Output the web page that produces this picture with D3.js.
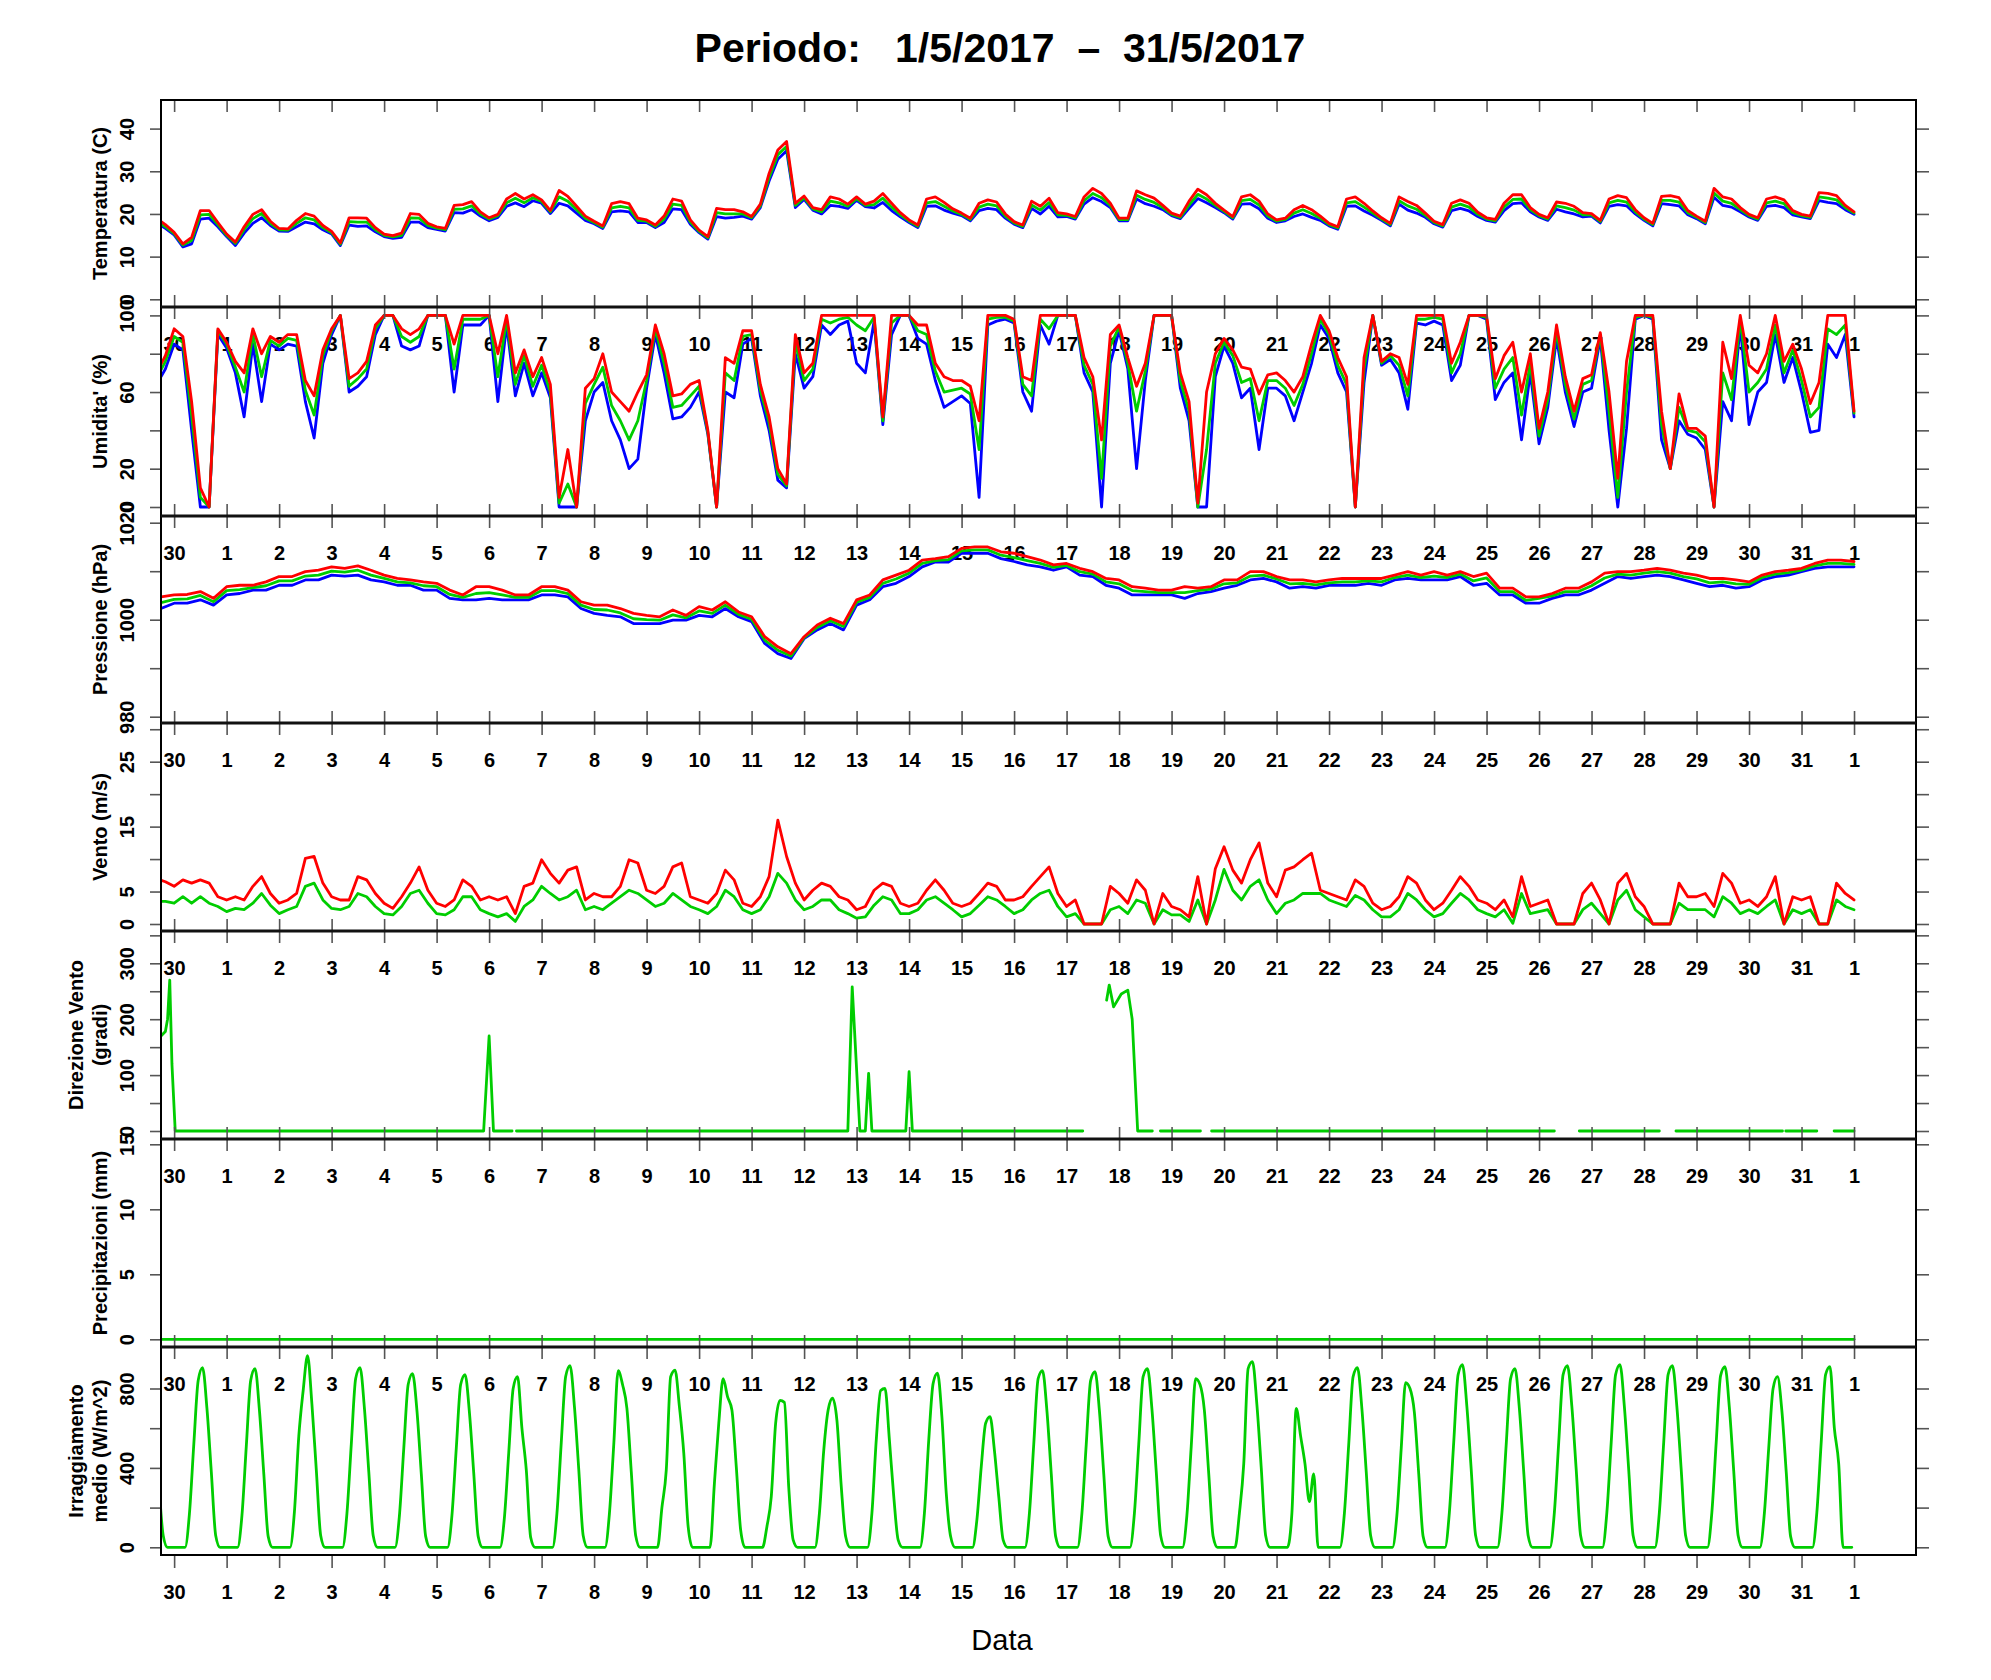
<!DOCTYPE html>
<html><head><meta charset="utf-8">
<script src="https://cdn.jsdelivr.net/npm/d3@7/dist/d3.min.js"></script>
<style>body{margin:0;background:#fff}svg{display:block}</style>
</head><body>
<svg id="c" width="1991" height="1680"></svg>
<script>
// ---------- DATA ----------
const dayLabels = ["30","1","2","3","4","5","6","7","8","9","10","11","12","13","14","15","16","17","18","19","20","21","22","23","24","25","26","27","28","29","30","31","1"];

// Temperature (C), 4-hourly from 29 Apr 16:00
const tMax = [19.0,17.5,
15.7,13.0,14.5,20.8,20.8,18.0, 15.3,13.4,17.0,19.9,21.0,18.3, 16.6,16.5,18.5,20.1,19.5,17.3, 15.9,13.2,19.1,19.1,19.0,16.8,
15.3,14.9,15.5,20.1,19.9,17.8, 17.0,16.6,22.0,22.2,22.9,20.5, 19.1,19.9,23.5,24.8,23.5,24.5, 23.3,20.8,25.5,24.1,21.8,19.5,
18.3,17.2,22.4,22.9,22.4,19.0, 18.6,17.4,19.5,23.5,23.0,18.6, 16.2,14.7,21.3,21.0,21.0,20.5, 19.4,22.3,29.5,35.0,37.0,22.5,
24.2,21.5,21.0,24.0,23.5,22.3, 24.0,22.3,23.0,24.8,22.5,20.3, 18.6,17.4,23.5,24.0,22.7,21.2, 20.2,19.0,22.5,23.3,22.8,20.0,
18.2,17.4,23.0,21.8,23.7,20.3, 20.0,19.4,24.0,26.0,24.8,22.5, 19.0,19.0,25.4,24.5,23.7,22.0, 20.2,19.5,23.0,25.8,24.5,22.5,
20.9,19.4,24.0,24.5,23.0,20.0, 18.6,19.0,21.0,22.0,21.0,19.5, 17.8,17.0,23.5,24.0,22.5,20.7, 19.1,17.8,24.0,22.9,22.0,20.2,
18.3,17.5,22.5,23.3,22.5,20.4, 19.1,18.7,22.5,24.5,24.5,21.5, 19.9,19.1,22.8,22.5,21.8,20.3, 20.1,18.5,23.5,24.3,23.8,21.0,
19.1,17.8,24.1,24.3,23.8,20.8, 19.5,18.3,26.0,24.0,23.5,21.5, 19.9,19.1,23.5,24.0,23.3,20.8, 19.9,19.5,25.0,24.8,24.3,22.0,
20.5];
const tMean = [18.5,17.0,
15.4,12.7,13.8,19.8,19.9,17.5, 15.0,13.1,16.3,18.9,20.1,17.8, 16.3,16.2,17.8,19.1,18.6,16.8, 15.6,12.9,18.2,18.1,18.1,16.3,
15.0,14.6,15.0,19.1,19.0,17.3, 16.7,16.3,21.1,21.2,21.9,20.0, 18.8,19.6,22.6,23.7,22.6,23.8, 22.9,20.5,24.0,23.0,21.0,19.0,
18.0,16.9,21.4,21.8,21.4,18.5, 18.3,17.1,18.8,22.3,22.0,18.1, 15.9,14.4,20.3,20.0,20.0,20.0, 19.1,21.9,28.5,33.9,35.8,22.0,
23.8,21.2,20.5,23.0,22.6,21.8, 23.6,22.0,22.2,23.7,21.6,19.8, 18.3,17.1,22.6,22.9,21.8,20.7, 19.9,18.7,21.6,22.3,21.9,19.5,
17.9,17.1,22.1,20.9,22.7,19.8, 19.7,19.1,23.1,24.8,23.8,22.0, 18.7,18.7,24.4,23.4,22.7,21.5, 19.9,19.2,22.1,24.6,23.5,22.0,
20.6,19.1,23.1,23.4,22.1,19.5, 18.3,18.7,20.2,21.0,20.1,19.0, 17.5,16.7,22.6,22.9,21.6,20.2, 18.8,17.5,23.1,21.9,21.1,19.7,
18.0,17.2,21.6,22.3,21.6,19.9, 18.8,18.4,21.6,23.4,23.5,21.0, 19.6,18.8,21.9,21.5,20.9,19.8, 19.8,18.2,22.6,23.2,22.8,20.5,
18.8,17.5,23.2,23.2,22.8,20.3, 19.2,18.0,24.9,23.0,22.5,21.0, 19.6,18.8,22.6,23.0,22.4,20.3, 19.6,19.2,24.0,23.7,23.3,21.5,
20.2];
const tMin = [18.0,16.6,
15.1,12.3,13.0,18.8,19.0,17.0, 14.7,12.6,15.5,17.8,19.1,17.3, 16.0,15.9,17.0,18.1,17.7,16.3, 15.3,12.6,17.4,17.1,17.2,15.8,
14.7,14.3,14.5,18.1,18.1,16.8, 16.4,16.0,20.3,20.2,21.0,19.5, 18.4,19.2,21.8,22.6,21.7,23.1, 22.5,20.1,22.5,21.9,20.2,18.5,
17.7,16.6,20.5,20.7,20.5,18.0, 18.0,16.8,18.0,21.2,21.0,17.6, 15.6,14.1,19.4,19.0,19.2,19.5, 18.8,21.5,27.7,32.8,34.8,21.5,
23.4,20.9,20.0,22.0,21.8,21.3, 23.2,21.7,21.4,22.7,20.8,19.3, 18.0,16.8,21.8,21.9,20.9,20.2, 19.6,18.4,20.8,21.3,21.0,19.0,
17.6,16.8,21.3,20.0,21.8,19.3, 19.4,18.8,22.3,23.8,22.9,21.5, 18.4,18.4,23.5,22.4,21.8,21.0, 19.6,18.9,21.3,23.6,22.6,21.5,
20.3,18.8,22.3,22.4,21.2,19.0, 18.0,18.4,19.4,20.0,19.2,18.5, 17.2,16.4,21.8,21.9,20.7,19.7, 18.5,17.2,22.3,20.9,20.2,19.2,
17.7,16.9,20.8,21.3,20.7,19.4, 18.5,18.1,20.8,22.4,22.6,20.5, 19.3,18.5,21.1,20.5,20.0,19.3, 19.5,17.9,21.8,22.2,21.9,20.0,
18.5,17.2,22.4,22.2,21.9,19.8, 18.9,17.7,23.9,22.0,21.6,20.5, 19.3,18.5,21.8,22.0,21.5,19.8, 19.3,18.9,23.1,22.7,22.4,21.0,
19.9];

// Relative humidity (%), 4-hourly from 29 Apr 16:00
const hMax = [70,79,
93,89,55,10,0,93, 86,76,70,93,80,89, 86,90,90,66,58,82, 93,100,67,70,76,95, 100,100,93,90,93,100,
100,100,85,100,100,100, 100,80,100,70,82,68, 78,64,5,30,0,62, 67,80,60,55,50,60, 69,95,80,58,59,64,
66,40,0,78,75,92, 92,64,47,20,12,90, 70,75,100,100,100,100, 100,100,100,47,100,100, 100,95,95,75,68,66,
66,63,45,100,100,100, 98,68,66,100,100,100, 100,100,78,68,35,90, 95,78,63,75,100,100, 100,70,55,2,60,80,
88,82,73,72,59,69, 70,66,60,68,85,100, 92,78,68,0,78,100, 76,80,78,64,100,100, 100,100,75,86,100,100,
100,67,79,86,60,80, 41,60,95,68,50,67, 69,91,60,15,76,100, 100,100,50,20,59,41, 41,37,0,86,67,100,
74,70,80,100,76,85, 72,54,65,100,100,100,
50];
const hMean = [67,76,
89,86,48,5,0,92, 85,73,60,90,68,87, 84,88,87,61,48,79, 92,100,63,67,72,93, 100,100,89,86,89,100,
100,100,72,98,98,98, 100,68,98,64,79,63, 74,60,2,12,0,54, 64,73,53,45,35,45, 66,93,75,52,53,58,
63,39,0,70,66,89, 90,61,44,17,11,86, 66,72,98,96,98,99, 95,92,99,45,96,100, 100,92,90,71,60,61,
62,59,30,98,99,99, 97,64,58,98,93,100, 100,100,74,64,15,84, 94,75,50,71,100,100, 100,66,50,0,30,75,
86,79,65,67,45,66, 66,62,53,64,80,98, 90,74,64,0,72,100, 75,79,74,58,98,98, 99,98,70,80,100,100,
99,62,72,78,48,75, 37,56,92,64,46,64, 66,90,50,5,60,99, 100,99,43,20,52,40, 39,34,0,70,56,98,
60,65,72,95,70,82, 66,47,52,93,90,95,
49];
const hMin = [64,72,
85,82,40,0,0,90, 83,70,47,85,55,85, 82,85,84,55,36,75, 90,100,60,63,68,90, 100,100,84,82,84,100,
100,100,60,95,95,95, 100,55,95,58,75,58, 70,57,0,0,0,45, 60,65,45,35,20,25, 62,90,70,46,47,52,
60,38,0,60,57,85, 88,58,40,14,10,80, 62,68,95,90,95,97, 75,70,97,43,90,100, 100,88,85,66,52,55,
58,54,5,95,97,98, 96,60,50,95,85,100, 100,100,70,60,0,75, 92,72,20,66,100,100, 100,62,45,0,0,68,
84,75,57,62,30,62, 62,58,45,60,75,95, 88,70,60,0,65,100, 74,77,70,51,96,95, 97,95,66,74,100,100,
98,56,65,70,35,70, 33,52,88,60,42,60, 62,88,40,0,41,98, 100,98,35,20,45,38, 36,30,0,55,45,95,
43,60,65,90,65,78, 60,39,40,85,78,90,
47];

// Pressure (hPa), 6-hourly from 29 Apr 18:00
const pMax = [1004.7,
1005.1,1005.2,1005.8,1004.4, 1006.8,1007.1,1007.1,1007.8, 1008.9,1008.9,1009.9,1010.2, 1010.9,1010.6,1011.1,1010.2,
1009.2,1008.5,1008.2,1007.8, 1007.5,1006.1,1005.1,1006.8, 1006.8,1006.1,1005.1,1005.1, 1006.8,1006.8,1006.1,1003.7,
1003.0,1003.0,1002.3,1001.3, 1000.9,1000.6,1002.0,1000.9, 1002.7,1002.0,1003.7,1001.6, 1000.6,996.5,994.4,993.0,
996.5,998.9,1000.3,999.2, 1004.1,1005.1,1008.2,1009.2, 1010.2,1012.3,1012.6,1013.0, 1014.7,1015.0,1015.0,1014.0,
1013.7,1013.0,1012.3,1011.3, 1011.6,1010.6,1009.9,1008.5, 1008.2,1006.8,1006.5,1006.1, 1006.1,1006.8,1006.5,1006.8,
1008.2,1008.2,1009.9,1009.9, 1008.9,1008.2,1008.2,1007.8, 1008.2,1008.5,1008.5,1008.5, 1008.5,1009.2,1009.9,1009.2,
1009.9,1009.2,1009.9,1008.9, 1009.6,1006.5,1006.5,1004.7, 1004.7,1005.4,1006.5,1006.5, 1007.8,1009.6,1009.9,1009.9,
1010.2,1010.6,1010.2,1009.6, 1009.2,1008.5,1008.5,1008.2, 1007.8,1009.2,1009.9,1010.2, 1010.6,1011.6,1012.3,1012.3,
1012.0];
const pMean = [1003.5,
1004.2,1004.3,1005.0,1003.7, 1006.0,1006.2,1006.6,1007.0, 1008.0,1008.0,1009.0,1009.2, 1010.0,1009.8,1010.2,1009.2,
1008.5,1007.8,1007.6,1007.0, 1006.8,1005.2,1004.6,1005.4, 1005.6,1005.1,1004.6,1004.6, 1006.0,1006.0,1005.4,1003.0,
1002.1,1002.0,1001.4,1000.2, 1000.0,999.9,1001.0,1000.4, 1001.8,1001.3,1003.0,1001.1, 1000.1,995.8,993.7,992.5,
996.3,998.4,999.8,998.6, 1003.6,1004.6,1007.5,1008.4, 1009.6,1011.6,1012.2,1012.4, 1014.2,1014.4,1014.4,1013.3,
1012.8,1012.2,1011.6,1010.8, 1011.2,1009.9,1009.4,1007.8, 1007.4,1006.0,1005.8,1005.6, 1005.6,1005.6,1006.0,1006.3,
1007.4,1007.6,1009.0,1009.2, 1008.4,1007.4,1007.5,1007.2, 1007.6,1007.8,1007.8,1008.0, 1007.8,1008.7,1009.2,1008.7,
1009.0,1008.7,1009.4,1008.0, 1008.6,1005.8,1005.8,1004.0, 1004.4,1004.9,1005.8,1005.8, 1007.0,1008.6,1009.4,1009.2,
1009.6,1009.9,1009.6,1008.9, 1008.4,1007.6,1007.8,1007.4, 1007.3,1008.7,1009.4,1009.7, 1010.2,1011.1,1011.6,1011.6,
1011.4];
const pMin = [1002.3,
1003.4,1003.4,1004.1,1003.0, 1005.1,1005.4,1006.1,1006.1, 1007.1,1007.1,1008.2,1008.2, 1009.2,1009.0,1009.2,1008.2,
1007.8,1007.1,1007.1,1006.1, 1006.1,1004.4,1004.1,1004.1, 1004.4,1004.1,1004.1,1004.1, 1005.1,1005.1,1004.7,1002.3,
1001.3,1000.9,1000.6,999.2, 999.2,999.2,999.9,999.9, 1000.9,1000.6,1002.3,1000.6, 999.6,995.1,993.0,992.0,
996.1,997.9,999.2,997.9, 1003.0,1004.1,1006.8,1007.5, 1008.9,1010.9,1011.9,1011.9, 1013.7,1013.7,1013.7,1012.6,
1012.0,1011.3,1010.9,1010.2, 1010.9,1009.2,1008.9,1007.1, 1006.5,1005.1,1005.1,1005.1, 1005.1,1004.4,1005.4,1005.8,
1006.5,1007.1,1008.2,1008.5, 1007.8,1006.5,1006.8,1006.5, 1007.1,1007.1,1007.1,1007.5, 1007.1,1008.2,1008.5,1008.2,
1008.2,1008.2,1008.9,1007.1, 1007.5,1005.1,1005.1,1003.4, 1003.4,1004.4,1005.1,1005.1, 1006.1,1007.5,1008.9,1008.5,
1008.9,1009.2,1008.9,1008.2, 1007.5,1006.8,1007.1,1006.5, 1006.8,1008.2,1008.9,1009.2, 1009.9,1010.6,1010.9,1010.9,
1010.9];

// Wind speed (m/s), 4-hourly from 29 Apr 16:00
const wMax = [7.0,6.5,
5.8,6.8,6.3,6.8,6.3,4.2, 3.7,4.2,3.7,5.8,7.3,4.7, 3.2,3.7,4.7,10.1,10.4,6.3, 4.2,3.7,3.7,7.3,6.8,4.7,
3.2,2.4,4.2,6.3,8.8,5.2, 3.2,2.7,3.7,6.8,5.8,3.7, 4.2,3.7,4.2,1.6,5.8,6.3, 9.9,7.8,6.3,8.3,8.8,3.7,
4.7,4.2,4.2,5.8,9.9,9.4, 5.2,4.7,5.8,8.8,9.4,4.2, 3.7,3.2,4.7,8.3,6.8,3.2, 2.7,4.2,7.3,16.0,10.4,6.3,
3.7,5.2,6.3,5.8,4.2,3.7, 2.2,2.7,5.2,6.3,5.8,3.2, 2.7,3.2,5.2,6.8,5.2,3.2, 2.7,3.2,4.7,6.3,5.8,3.7,
3.7,4.2,5.8,7.3,8.8,4.7, 2.7,3.7,0,0,0,5.8, 4.7,3.2,6.8,5.2,0,4.7, 2.7,2.2,1.1,7.3,0,8.5,
11.9,8.3,6.3,9.9,12.5,6.3, 4.2,8.3,8.8,9.9,10.9,5.2, 4.7,4.2,3.7,6.8,5.8,3.2, 2.2,2.7,4.2,7.3,6.3,3.7,
2.2,3.2,5.2,7.3,5.8,3.7, 3.2,2.2,3.7,1.1,7.3,2.7, 3.2,3.7,0,0,0,4.7, 6.3,3.7,0,6.3,7.8,4.2,
2.7,0,0,0,6.3,4.2, 4.2,4.7,2.7,7.8,6.3,3.2, 3.7,2.7,4.2,7.3,0,4.2, 3.7,4.2,0,0,6.3,4.7,
3.7];
const wMean = [3.5,3.5,
3.2,4.2,3.2,4.2,3.2,2.7, 1.9,2.4,2.2,3.2,4.7,2.9, 1.6,2.2,2.7,5.8,6.3,3.7, 2.4,2.2,2.7,4.7,4.2,2.7,
1.6,1.4,2.7,4.7,5.2,3.2, 1.6,1.4,2.2,4.2,4.2,2.2, 1.6,1.1,1.6,0.4,2.7,3.7, 5.8,4.7,3.7,4.2,5.2,2.2,
2.7,2.2,3.2,4.2,5.2,4.7, 3.7,2.7,3.2,4.7,3.7,2.7, 2.2,1.6,2.7,5.2,4.2,2.2, 1.6,2.2,4.2,7.8,6.3,3.7,
2.2,2.7,3.7,3.7,2.2,1.6, 0.9,1.1,2.9,4.2,3.7,1.6, 1.6,2.2,3.7,4.2,3.2,2.2, 1.1,1.6,2.9,4.2,3.7,2.7,
1.6,2.2,3.7,4.7,5.2,2.7, 1.1,1.6,0,0,0,2.2, 2.7,1.6,3.7,3.2,0,2.2, 1.4,1.4,0.4,3.7,0,3.7,
8.4,5.2,3.7,5.8,6.8,3.7, 1.6,3.2,3.7,4.7,4.7,4.7, 3.7,3.2,2.7,4.4,3.7,2.2, 1.1,1.1,2.2,4.7,3.7,2.2,
1.1,1.6,3.2,4.7,3.7,2.2, 1.6,1.1,2.2,0.1,4.7,1.6, 1.9,2.2,0,0,0,2.2, 3.2,1.6,0,3.7,5.2,2.2,
1.1,0,0,0,3.2,2.2, 2.2,2.2,1.1,4.2,3.2,1.6, 2.2,1.6,2.7,3.7,0,2.2, 1.6,2.2,0,0,3.7,2.7,
2.2];

// Wind direction (degrees): hours after 29 Apr 18:00 and readings (null = no data)
const dirHours = [0,2,3,4,5,6.5, 147.5,150,152, 160.5,161,162.5, 314,316,319.5,322,323.5,325, 340.5,342,343.5,
421.4,421.5,432.3,433.5,435.5,439,442,444,446.5, 453.2,453.5,456.9, 475.2,475.5,480.3, 637,637.5,648.4,
685,685.5,692.6, 741.3,741.6,742.8, 757,757.5,764.9, 774];
const dirValues = [170,178,200,270,120,0, 0,170,0, 0,null,0, 0,258,0,0,103,0, 0,106,0,
0,null,234,261,222,245,252,200,0, 0,null,0, 0,null,0, 0,null,0,
0,null,0, 0,null,0, 0,null,0, 0];

// Precipitation (mm), 6-hourly from 29 Apr 18:00
const rain = [0,
0,0,0,0, 0,0,0,0, 0,0,0,0, 0,0,0,0, 0,0,0,0, 0,0,0,0, 0,0,0,0, 0,0,0,0,
0,0,0,0, 0,0,0,0, 0,0,0,0, 0,0,0,0, 0,0,0,0, 0,0,0,0, 0,0,0,0, 0,0,0,0,
0,0,0,0, 0,0,0,0, 0,0,0,0, 0,0,0,0, 0,0,0,0, 0,0,0,0, 0,0,0,0, 0,0,0,0,
0,0,0,0, 0,0,0,0, 0,0,0,0, 0,0,0,0, 0,0,0,0, 0,0,0,0, 0,0,0,0, 0,0,0,0,
0];

// Mean irradiance (W/m^2), 2-hourly from 29 Apr 17:00 (odd hours)
const irr = [330,60,0,0,
0,0,0,170,520,840,905,700,380,60,0,0,
0,0,0,160,510,840,900,690,370,55,0,0,
0,0,0,180,560,790,965,720,390,60,0,0,
0,0,0,170,520,850,905,700,380,60,0,0,
0,0,0,160,500,820,875,690,370,55,0,0,
0,0,0,160,500,820,870,680,370,55,0,0,
0,0,0,150,480,800,860,600,390,50,0,0,
0,0,0,170,530,860,915,710,390,60,0,0,
0,0,0,170,520,890,820,700,380,60,0,0,
0,0,0,200,390,860,893,709,474,104,0,0,
0,0,0,322,625,850,759,692,406,87,0,0,
0,0,0,104,255,625,740,730,300,37,0,0,
0,0,0,171,490,692,751,641,306,54,0,0,
0,0,0,171,541,790,800,541,255,37,0,0,
0,0,0,171,541,826,877,658,272,54,0,0,
0,0,0,138,406,625,658,490,255,37,0,0,
0,0,0,170,520,850,890,690,370,55,0,0,
0,0,0,170,520,840,885,690,370,55,0,0,
0,0,0,170,520,860,900,700,380,60,0,0,
0,0,0,160,510,850,820,690,370,55,0,0,
0,0,0,170,420,900,935,720,400,60,0,0,
0,0,0,170,700,560,420,230,370,0,0,0,
0,0,0,170,520,860,905,700,380,60,0,0,
0,0,0,160,500,830,800,680,370,55,0,0,
0,0,0,175,530,870,920,710,390,60,0,0,
0,0,0,170,520,850,900,700,380,60,0,0,
0,0,0,175,530,870,915,710,390,60,0,0,
0,0,0,175,530,870,920,710,390,60,0,0,
0,0,0,175,530,870,915,710,390,60,0,0,
0,0,0,175,530,865,910,705,385,60,0,0,
0,0,0,170,500,800,860,690,380,55,0,0,
0,0,0,175,530,870,910,600,420,0,0,0];

// Axis ticks and labels
const tempTicks = [0,10,20,30,40], tempLabels = [0,10,20,30,40];
const humTicks = [0,20,40,60,80,100], humLabels = [0,20,60,100];
const presTicks = [980,990,1000,1010,1020], presLabels = [980,1000,1020];
const windTicks = [0,5,10,15,20,25,30], windLabels = [0,5,15,25];
const dirTicks = [0,50,100,150,200,250,300,350], dirLabels = [0,100,200,300];
const rainTicks = [0,5,10,15], rainLabels = [0,5,10,15];
const irrTicks = [0,200,400,600,800], irrLabels = [0,400,800];

// ---------- DRAWING ----------
const FONT = '"Liberation Sans", Arial, Helvetica, sans-serif';
const RED = "#ff0000", GREEN = "#00cd00", BLUE = "#0000ff";
const svg = d3.select("#c");
svg.append("rect").attr("width",1991).attr("height",1680).attr("fill","#fff");

const X0 = new Date(2017,3,29,18,0), X1 = new Date(2017,5,2,4,20);
const x = d3.scaleTime().domain([X0, X1]).range([161, 1916]);
const at = h => new Date(X0.getTime() + h*3600000);
const grid = (vals, h0, step) => vals.map((v,i) => ({t: at(h0 + i*step), v}));
const dayTicks = d3.timeDay.range(new Date(2017,3,30), new Date(2017,5,1,12));

const panels = [
  {top:100, bottom:307, dom:[0,40], rng:[299.3,128.6], ticks:tempTicks, labels:tempLabels, title:["Temperatura (C)"],
   series:[[grid(tMin,-2,4),BLUE],[grid(tMean,-2,4),GREEN],[grid(tMax,-2,4),RED]]},
  {top:307, bottom:516, dom:[0,100], rng:[507,315.4], ticks:humTicks, labels:humLabels, title:["Umidita' (%)"],
   series:[[grid(hMin,-2,4),BLUE],[grid(hMean,-2,4),GREEN],[grid(hMax,-2,4),RED]]},
  {top:516, bottom:723, dom:[980,1020], rng:[716.7,522.7], ticks:presTicks, labels:presLabels, title:["Pressione (hPa)"],
   series:[[grid(pMin,0,6),BLUE],[grid(pMean,0,6),GREEN],[grid(pMax,0,6),RED]]},
  {top:723, bottom:931, dom:[0,25], rng:[924,761.7], ticks:windTicks, labels:windLabels, title:["Vento (m/s)"],
   series:[[grid(wMean,-2,4),GREEN],[grid(wMax,-2,4),RED]]},
  {top:931, bottom:1139, dom:[0,300], rng:[1131,963.3], ticks:dirTicks, labels:dirLabels, title:["Direzione Vento","(gradi)"],
   series:[[dirHours.map((h,i)=>({t:at(h), v:dirValues[i]})),GREEN]]},
  {top:1139, bottom:1347, dom:[0,15], rng:[1339.3,1144.3], ticks:rainTicks, labels:rainLabels, title:["Precipitazioni (mm)"],
   series:[[grid(rain,0,6),GREEN]]},
  {top:1347, bottom:1555, dom:[0,800], rng:[1547.3,1388.5], ticks:irrTicks, labels:irrLabels, title:["Irraggiamento","medio (W/m^2)"],
   series:[[grid(irr,-1,2),GREEN]], smooth:true}
];

const defs = svg.append("defs");
panels.forEach((p,i) => {
  defs.append("clipPath").attr("id","clip"+i).append("rect")
    .attr("x",161).attr("y",p.top).attr("width",1916-161).attr("height",p.bottom-p.top);
});

// x-axis labels (below each panel, inside the next one) drawn first
panels.forEach(p => {
  const g = svg.append("g").attr("transform",`translate(0,${p.bottom})`)
    .call(d3.axisBottom(x).tickValues(dayTicks).tickSize(0).tickPadding(30).tickFormat((d,i)=>dayLabels[i]));
  g.select(".domain").remove();
  g.selectAll("text").attr("font-size",20).attr("font-weight","bold").attr("fill","#000").attr("font-family",FONT);
});

// data lines
panels.forEach((p,i) => {
  const y = d3.scaleLinear().domain(p.dom).range(p.rng);
  p.y = y;
  const line = d3.line().defined(d => d.v !== null).x(d => x(d.t)).y(d => y(d.v))
    .curve(p.smooth ? d3.curveMonotoneX : d3.curveLinear);
  const g = svg.append("g").attr("clip-path",`url(#clip${i})`);
  p.series.forEach(([data,color]) => {
    g.append("path").datum(data).attr("d",line).attr("fill","none").attr("stroke",color)
      .attr("stroke-width",2.8).attr("stroke-linejoin","round").attr("stroke-linecap","round");
  });
});

// y axes
panels.forEach(p => {
  const gl = svg.append("g").attr("transform","translate(161,0)")
    .call(d3.axisLeft(p.y).tickValues(p.ticks).tickSize(11).tickFormat(d => p.labels.includes(d) ? String(d) : ""));
  gl.select(".domain").remove();
  gl.selectAll(".tick line").attr("stroke","#555").attr("stroke-width",1.6);
  gl.selectAll(".tick text").attr("x",0).attr("dy",0).attr("text-anchor","middle")
    .attr("transform","translate(-27,0) rotate(-90)")
    .attr("font-size",20).attr("font-weight","bold").attr("fill","#000").attr("font-family",FONT);
  const gr = svg.append("g").attr("transform","translate(1916,0)")
    .call(d3.axisRight(p.y).tickValues(p.ticks).tickSize(13).tickFormat(""));
  gr.select(".domain").remove();
  gr.selectAll(".tick line").attr("stroke","#555").attr("stroke-width",1.6);

  // axis title
  const cy = (p.top + p.bottom)/2;
  const lines = p.title;
  lines.forEach((txt,k) => {
    const bx = lines.length === 1 ? 107 : (k === 0 ? 83 : 107);
    svg.append("text").attr("transform",`translate(${bx},${cy}) rotate(-90)`)
      .attr("text-anchor","middle").attr("font-family",FONT).attr("font-weight","bold")
      .attr("font-size",20).attr("fill","#000").text(txt);
  });
});

// x ticks
function xTicks(yPos, up, len){
  const ax = (up ? d3.axisTop(x) : d3.axisBottom(x)).tickValues(dayTicks).tickSize(len).tickFormat("");
  const g = svg.append("g").attr("transform",`translate(0,${yPos})`).call(ax);
  g.select(".domain").remove();
  g.selectAll(".tick line").attr("stroke","#555").attr("stroke-width",1.6);
}
xTicks(100,false,12);
panels.slice(0,-1).forEach(p => { xTicks(p.bottom,false,12); xTicks(p.bottom,true,12); });
xTicks(1555,false,13);

// frames
panels.forEach(p => {
  svg.append("rect").attr("x",161).attr("y",p.top).attr("width",1916-161).attr("height",p.bottom-p.top)
    .attr("fill","none").attr("stroke","#000").attr("stroke-width",2);
});
panels.slice(0,-1).forEach(p => {
  svg.append("line").attr("x1",161).attr("x2",1916).attr("y1",p.bottom).attr("y2",p.bottom)
    .attr("stroke","#111").attr("stroke-width",3);
});

// titles
svg.append("text").attr("x",1000).attr("y",62).attr("text-anchor","middle")
  .attr("font-family",FONT).attr("font-weight","bold").attr("font-size",41).attr("fill","#000")
  .style("white-space","pre").text("Periodo:   1/5/2017  \u2013  31/5/2017");
svg.append("text").attr("x",1002).attr("y",1650).attr("text-anchor","middle")
  .attr("font-family",FONT).attr("font-size",29).attr("fill","#000").text("Data");
</script>
</body></html>
